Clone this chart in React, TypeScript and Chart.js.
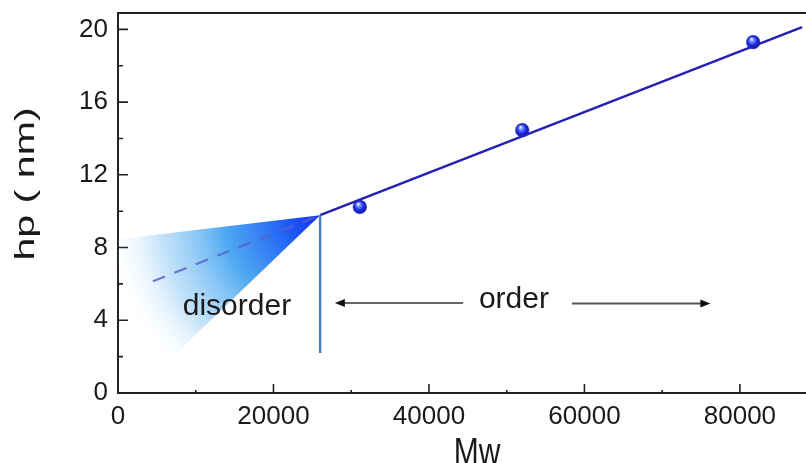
import React, { useEffect, useRef } from "react";
import { Chart, registerables } from "chart.js";

Chart.register(...registerables);

// Measured lamellar period hp versus molecular weight Mw
const mwValues = [31100, 52000, 81700];
const hpValues = [10.24, 14.46, 19.3];

// Linear fit of the ordered regime, starting at the order–disorder transition
const fitMw = [26000, 88000];
const fitHp = [9.78, 20.12];

// Extrapolation of the fit into the disordered regime (dashed)
const extrapMw = [4500, 26000];
const extrapHp = [6.15, 9.78];

// Vertical marker at the transition
const transitionMw = [26000, 26000];
const transitionHp = [9.78, 2.2];

// Shaded fan of the disordered regime: apex and the two bounding rays
const fanApex = [26000, 9.78];
const fanUpper = [0, 8.45];
const fanLower = [8000, 2.4];

// Arrows around the "order" label
const arrowFromMw = [44400, 58400];
const arrowToMw = [27900, 76200];
const arrowHp = [4.95, 4.92];

// Region labels (baseline positions)
const regionLabels = ["disorder", "order"];
const regionLabelMw = [15300, 50930];
const regionLabelHp = [4.28, 4.66];

const xTicks = [0, 20000, 40000, 60000, 80000];
const yTicks = [0, 4, 8, 12, 16, 20];
const xMinorStep = 10000;
const yMinorStep = 2;

const FONT = "'Liberation Sans', Arial, Helvetica, sans-serif";
const AXIS_COLOR = "#222222";

function pts(xs: number[], ys: number[]) {
  return xs.map((x, i) => ({ x, y: ys[i] }));
}

function makeSphere(r: number): HTMLCanvasElement {
  const c = document.createElement("canvas");
  const s = Math.ceil(r * 2 + 2);
  c.width = s;
  c.height = s;
  const g = c.getContext("2d")!;
  const cx = s / 2;
  const cy = s / 2;
  const grad = g.createRadialGradient(cx - r * 0.25, cy - r * 0.45, r * 0.05, cx, cy, r);
  grad.addColorStop(0, "#ffffff");
  grad.addColorStop(0.25, "#7d8cff");
  grad.addColorStop(0.6, "#1c30ea");
  grad.addColorStop(1, "#0d10a0");
  g.fillStyle = grad;
  g.beginPath();
  g.arc(cx, cy, r, 0, Math.PI * 2);
  g.fill();
  return c;
}

const decorPlugin = {
  id: "decor",
  beforeDatasetsDraw(chart: any) {
    const { ctx, chartArea, scales } = chart;
    const x = scales.x;
    const y = scales.y;
    const ax = x.getPixelForValue(fanApex[0]);
    const ay = y.getPixelForValue(fanApex[1]);
    const ux = x.getPixelForValue(fanUpper[0]);
    const uy = y.getPixelForValue(fanUpper[1]);
    const lx = x.getPixelForValue(fanLower[0]);
    const ly = y.getPixelForValue(fanLower[1]);
    const a1 = Math.atan2(uy - ay, ux - ax);
    const a2 = Math.atan2(ly - ay, lx - ax);
    const radius = Math.max(Math.hypot(ux - ax, uy - ay), Math.hypot(lx - ax, ly - ay)) + 12;

    ctx.save();
    ctx.beginPath();
    ctx.rect(chartArea.left, chartArea.top, chartArea.right - chartArea.left, chartArea.bottom - chartArea.top);
    ctx.clip();
    const grad = ctx.createRadialGradient(ax, ay, 0, ax, ay, radius);
    grad.addColorStop(0, "rgba(18,48,240,1)");
    grad.addColorStop(0.15, "rgba(28,88,245,1)");
    grad.addColorStop(0.45, "rgba(60,160,240,0.9)");
    grad.addColorStop(0.75, "rgba(140,200,245,0.5)");
    grad.addColorStop(1, "rgba(255,255,255,0)");
    ctx.fillStyle = grad;
    ctx.beginPath();
    ctx.moveTo(ax, ay);
    ctx.arc(ax, ay, radius, a2, a1, false);
    ctx.closePath();
    ctx.fill();
    ctx.restore();
  },
  afterDatasetsDraw(chart: any) {
    const { ctx, scales } = chart;
    const x = scales.x;
    const y = scales.y;
    ctx.save();
    // arrows
    const arrowColors = ["#333333", "#555555"];
    const arrowWidths = [1.5, 2];
    arrowFromMw.forEach((from, i) => {
      const x0 = x.getPixelForValue(from);
      const x1 = x.getPixelForValue(arrowToMw[i]);
      const py = y.getPixelForValue(arrowHp[i]);
      const dir = Math.sign(x1 - x0);
      ctx.strokeStyle = arrowColors[i];
      ctx.lineWidth = arrowWidths[i];
      ctx.beginPath();
      ctx.moveTo(x0, py);
      ctx.lineTo(x1 - dir * 8, py);
      ctx.stroke();
      ctx.fillStyle = "#111111";
      ctx.beginPath();
      ctx.moveTo(x1, py);
      ctx.lineTo(x1 - dir * 10, py - 4);
      ctx.lineTo(x1 - dir * 10, py + 4);
      ctx.closePath();
      ctx.fill();
    });
    // region labels
    ctx.fillStyle = "#1a1a1a";
    ctx.font = `30px ${FONT}`;
    ctx.textAlign = "center";
    ctx.textBaseline = "alphabetic";
    regionLabels.forEach((t, i) => {
      ctx.fillText(t, x.getPixelForValue(regionLabelMw[i]), y.getPixelForValue(regionLabelHp[i]));
    });
    ctx.restore();
  },
  afterDraw(chart: any) {
    const { ctx, chartArea, scales } = chart;
    const x = scales.x;
    const y = scales.y;
    ctx.save();
    ctx.strokeStyle = AXIS_COLOR;
    // top frame line
    ctx.lineWidth = 2;
    ctx.beginPath();
    ctx.moveTo(chartArea.left, chartArea.top);
    ctx.lineTo(chartArea.right, chartArea.top);
    ctx.stroke();
    // inward ticks
    ctx.lineWidth = 1.6;
    ctx.beginPath();
    xTicks.forEach((v) => {
      const px = x.getPixelForValue(v);
      ctx.moveTo(px, chartArea.bottom);
      ctx.lineTo(px, chartArea.bottom - 9);
      const m = v + xMinorStep;
      if (m < x.max) {
        const pm = x.getPixelForValue(m);
        ctx.moveTo(pm, chartArea.bottom);
        ctx.lineTo(pm, chartArea.bottom - 3);
      }
    });
    yTicks.forEach((v) => {
      const py = y.getPixelForValue(v);
      ctx.moveTo(chartArea.left, py);
      ctx.lineTo(chartArea.left + 10, py);
      const m = v + yMinorStep;
      if (m < y.max) {
        const pm = y.getPixelForValue(m);
        ctx.moveTo(chartArea.left, pm);
        ctx.lineTo(chartArea.left + 5, pm);
      }
    });
    ctx.stroke();

    // axis titles
    ctx.fillStyle = "#1a1a1a";
    ctx.textAlign = "center";
    ctx.textBaseline = "middle";
    ctx.font = `28px ${FONT}`;
    ctx.save();
    ctx.translate(26, 184);
    ctx.rotate(-Math.PI / 2);
    ctx.scale(1.47, 1);
    ctx.fillText("hp ( nm)", 0, 0);
    ctx.restore();

    ctx.save();
    ctx.font = `30px ${FONT}`;
    ctx.textBaseline = "alphabetic";
    ctx.translate(477, 464);
    ctx.scale(1, 1.2);
    ctx.fillText("Mw", 0, 0);
    ctx.restore();
    ctx.restore();
  },
};

export default function App() {
  const canvasRef = useRef<HTMLCanvasElement | null>(null);

  useEffect(() => {
    const canvas = canvasRef.current;
    if (!canvas) return;
    const sphere = makeSphere(7);

    const chart = new Chart(canvas, {
      type: "scatter",
      data: {
        datasets: [
          {
            label: "extrapolation",
            data: pts(extrapMw, extrapHp),
            showLine: true,
            borderColor: "rgba(88,98,205,0.85)",
            borderWidth: 2.2,
            borderDash: [13, 10],
            pointRadius: 0,
          },
          {
            label: "transition",
            data: pts(transitionMw, transitionHp),
            showLine: true,
            borderColor: "#4f7fc4",
            borderWidth: 2.5,
            pointRadius: 0,
          },
          {
            label: "fit",
            data: pts(fitMw, fitHp),
            showLine: true,
            borderColor: "#2222b4",
            borderWidth: 2.5,
            pointRadius: 0,
          },
          {
            label: "hp",
            data: pts(mwValues, hpValues),
            showLine: false,
            pointStyle: sphere as any,
            pointRadius: 7,
          },
        ],
      },
      options: {
        responsive: false,
        animation: false,
        devicePixelRatio: 1,
        layout: { autoPadding: false, padding: { top: 13, right: 0, left: 0, bottom: 0 } },
        plugins: {
          legend: { display: false },
          tooltip: { enabled: false },
          title: { display: false },
        },
        scales: {
          x: {
            type: "linear",
            min: 0,
            max: 88500,
            afterFit: (s: any) => {
              s.height = 70;
              s.paddingLeft = 0;
              s.paddingRight = 0;
            },
            afterBuildTicks: (s: any) => {
              s.ticks = xTicks.map((v) => ({ value: v }));
            },
            grid: { display: false, drawTicks: false },
            border: { display: true, color: AXIS_COLOR, width: 2 },
            ticks: {
              color: "#1a1a1a",
              font: { family: FONT, size: 26 },
              padding: 8,
              maxRotation: 0,
              autoSkip: false,
              callback: (v: any) => String(v),
            },
          },
          y: {
            type: "linear",
            min: 0,
            max: 20.9,
            afterFit: (s: any) => {
              s.width = 118;
              s.paddingTop = 0;
              s.paddingBottom = 0;
            },
            afterBuildTicks: (s: any) => {
              s.ticks = yTicks.map((v) => ({ value: v }));
            },
            grid: { display: false, drawTicks: false },
            border: { display: true, color: AXIS_COLOR, width: 2 },
            ticks: {
              color: "#1a1a1a",
              font: { family: FONT, size: 26 },
              padding: 10,
              autoSkip: false,
              callback: (v: any) => String(v),
            },
          },
        },
      },
      plugins: [decorPlugin],
    });

    return () => {
      chart.destroy();
    };
  }, []);

  return (
    <div style={{ position: "absolute", left: 0, top: 0, width: 806, height: 463, background: "#ffffff" }}>
      <canvas ref={canvasRef} width={806} height={463} style={{ display: "block" }} />
    </div>
  );
}
